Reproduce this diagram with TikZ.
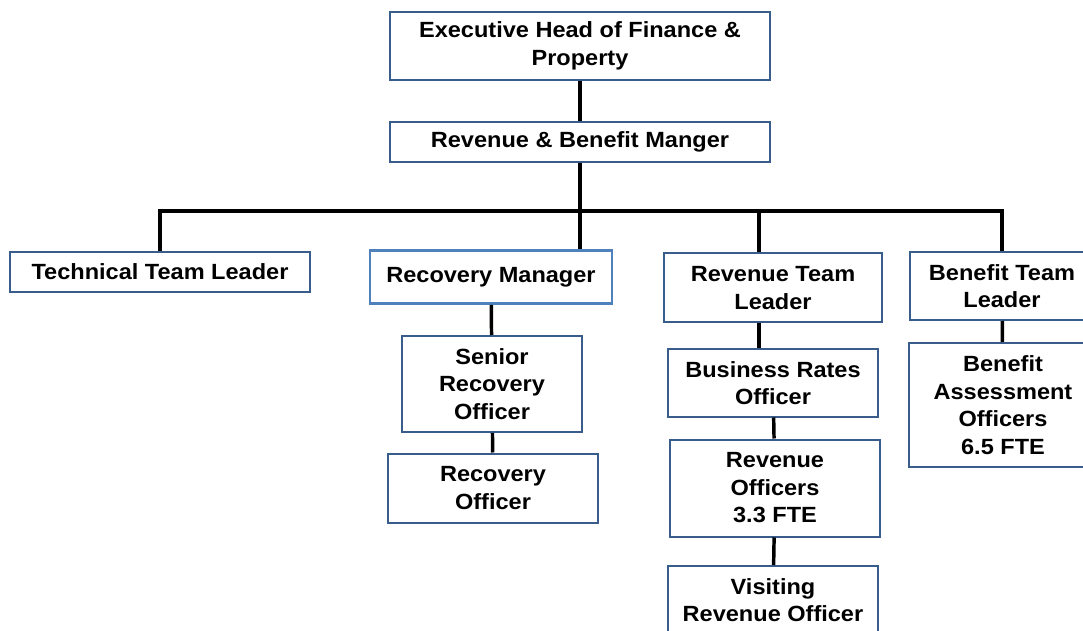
\documentclass[tikz,border=0pt]{standalone}
\usepackage{fontspec}
\setmainfont{Liberation Sans}[FakeStretch=1.07]
\definecolor{boxline}{RGB}{56,93,138}
\definecolor{boxlight}{RGB}{79,129,189}
\tikzset{
  post/.style={draw=boxline, line width=1.5pt, fill=white, align=center,
    font=\bfseries\fontsize{16.5}{20.6}\selectfont, inner sep=0pt},
  link/.style={line width=2.6pt}
}

\begin{document}
\begin{tikzpicture}[x=0.75pt,y=0.75pt,yscale=-1,xscale=1]
\clip (0,0) rectangle (1083,631);
% top of the chart
\node [post, minimum width=285pt, minimum height=51pt] (exec) at (580,46) {Executive Head of Finance \&\\Property};
\node [post, minimum width=285pt, minimum height=30pt] (rbm) at (580,142) {Revenue \& Benefit Manger};
\coordinate (bar) at (580,211);
\coordinate (jr) at (759,211);
% team leaders
\node [post, minimum width=225pt, minimum height=30pt] (ttl) at (160,272) {Technical Team Leader};
\node [post, draw=boxlight, line width=2.2pt, minimum width=181.5pt, minimum height=39.75pt] (rm) at (491,277) {Recovery Manager};
\node [post, minimum width=163.5pt, minimum height=51.75pt] (rtl) at (773,288) {Revenue Team\\Leader};
\node [post, minimum width=138pt, minimum height=51pt] (btl) at (1002,286) {Benefit Team\\Leader};
% officers
\node [post, minimum width=135pt, minimum height=72pt] (sro) at (492,384) {Senior\\Recovery\\Officer};
\node [post, minimum width=157.5pt, minimum height=51.75pt] (ro) at (493,488) {Recovery\\Officer};
\node [post, minimum width=157.5pt, minimum height=50.25pt] (bro) at (773,383) {Business Rates\\Officer};
\node [post, minimum width=157.5pt, minimum height=72.75pt] (revo) at (775,488) {Revenue\\Officers\\3.3 FTE};
\node [post, minimum width=157.5pt, minimum height=51pt] (vro) at (773,600) {Visiting\\Revenue Officer};
\node [post, minimum width=141pt, minimum height=93pt] (bao) at (1003,405) {Benefit\\Assessment\\Officers\\6.5 FTE};
% reporting lines
\draw [link] (exec) -- (rbm);
\draw [link] (rbm) -- (rm.north -| bar);
\draw [link] (ttl.north) |- (bar) -| (btl.north);
\draw [link] (jr) -- (rtl.north -| jr);
\draw [link] (rm) -- (sro);
\draw [link] (sro) -- (ro);
\draw [link] (rtl.south -| jr) -- (bro.north -| jr);
\draw [link] (bro) -- (revo);
\draw [link] (revo) -- (vro);
\draw [link] (btl) -- (bao);
\end{tikzpicture}
\end{document}
